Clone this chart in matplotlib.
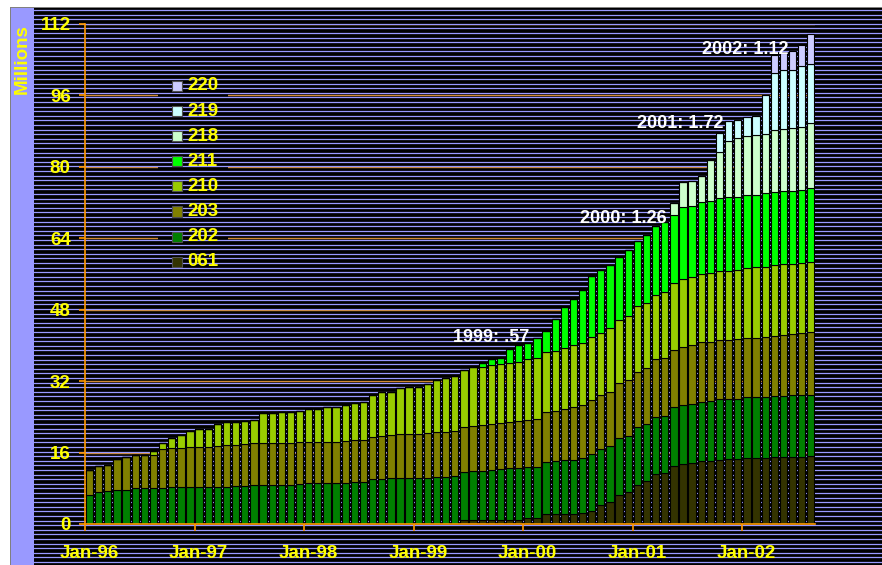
import numpy as np
import matplotlib
matplotlib.use('Agg')
import matplotlib.pyplot as plt
from matplotlib.patches import Rectangle
from matplotlib.lines import Line2D

plt.rcParams['font.family'] = ['Liberation Sans', 'DejaVu Sans']

# monthly volumes in millions, Jan-96 .. Aug-02, one row per year
s061 = [0, 0, 0, 0, 0, 0, 0, 0, 0, 0, 0, 0,
        0, 0, 0, 0, 0, 0, 0, 0, 0, 0, 0, 0,
        0, 0, 0, 0, 0, 0, 0, 0, 0, 0, 0, 0,
        0, 0, 0, 0, 0, 1.0, 1.0, 1.0, 1.0, 1.0, 1.0, 1.0,
        1.3, 1.3, 2.2, 2.2, 2.2, 2.2, 2.4, 3.0, 4.3, 5.0, 6.5, 7.1,
        8.7, 9.6, 11.2, 11.5, 13.0, 13.4, 13.7, 14.1, 14.1, 14.3, 14.5, 14.5,
        14.7, 14.7, 14.7, 14.9, 14.9, 15.1, 15.1, 15.2]
s202 = [6.6, 7.2, 7.4, 7.6, 7.6, 8.0, 8.0, 8.0, 8.1, 8.2, 8.2, 8.2,
        8.3, 8.4, 8.4, 8.4, 8.6, 8.6, 8.7, 8.7, 8.7, 8.8, 8.8, 8.9,
        9.1, 9.1, 9.1, 9.1, 9.1, 9.3, 9.3, 10.1, 10.1, 10.2, 10.2, 10.4,
        10.4, 10.4, 10.6, 10.6, 10.8, 10.7, 10.9, 10.9, 11.1, 11.4, 11.5, 11.6,
        11.4, 11.4, 11.8, 12.0, 12.1, 12.2, 12.3, 12.6, 12.4, 12.5, 12.7, 12.6,
        13.0, 12.8, 12.8, 12.8, 13.1, 13.3, 13.2, 13.2, 13.5, 13.7, 13.5, 13.6,
        13.7, 13.7, 13.8, 13.8, 13.8, 13.7, 13.8, 13.8]
s203 = [5.5, 5.9, 5.8, 6.9, 7.5, 7.5, 7.5, 7.5, 8.6, 8.8, 8.9, 9.0,
        8.9, 8.9, 9.1, 9.2, 9.1, 9.3, 9.4, 9.4, 9.4, 9.4, 9.4, 9.4,
        9.3, 9.3, 9.3, 9.3, 9.6, 9.5, 9.5, 9.5, 9.7, 9.8, 9.9, 9.8,
        9.8, 10.0, 9.9, 10.0, 10.0, 10.1, 10.0, 10.2, 10.4, 10.3, 10.4, 10.5,
        10.7, 10.9, 11.2, 11.2, 11.4, 11.9, 11.9, 12.2, 12.2, 12.0, 12.3, 12.6,
        12.3, 12.6, 12.9, 12.8, 12.9, 12.9, 13.2, 13.4, 13.1, 13.2, 13.2, 13.3,
        13.3, 13.3, 13.5, 13.5, 13.6, 13.8, 13.8, 13.9]
s210 = [0, 0, 0, 0, 0, 0, 0, 0.9, 1.5, 2.3, 2.8, 3.7,
        4.0, 3.9, 4.8, 5.2, 5.1, 5.2, 5.2, 6.7, 6.7, 6.8, 6.9, 7.1,
        7.4, 7.4, 7.7, 7.9, 8.0, 8.4, 8.6, 9.4, 9.7, 9.5, 10.3, 10.4,
        10.6, 11.0, 11.8, 12.0, 12.4, 12.8, 13.2, 13.1, 13.1, 13.1, 13.1, 13.1,
        13.5, 13.5, 13.3, 13.4, 13.7, 13.8, 13.9, 14.0, 13.8, 14.5, 14.3, 14.3,
        14.8, 14.6, 14.5, 14.8, 14.9, 15.2, 15.2, 15.2, 15.5, 15.5, 15.5, 15.5,
        15.6, 15.8, 15.6, 15.8, 15.9, 15.6, 15.7, 15.9]
s211 = [0, 0, 0, 0, 0, 0, 0, 0, 0, 0, 0, 0,
        0, 0, 0, 0, 0, 0, 0, 0, 0, 0, 0, 0,
        0, 0, 0, 0, 0, 0, 0, 0, 0, 0, 0, 0,
        0, 0, 0, 0, 0, 0, 0, 0.8, 1.3, 1.3, 3.2, 3.9,
        3.7, 4.5, 4.7, 7.1, 9.3, 10.4, 12.0, 13.7, 14.2, 14.0, 14.1, 14.8,
        14.7, 15.1, 15.4, 15.8, 15.3, 16.1, 16.0, 16.2, 16.2, 16.3, 16.5, 16.4,
        16.5, 16.3, 16.5, 16.3, 16.3, 16.5, 16.4, 16.4]
s218 = [0] * 12 + [0] * 12 + [0] * 12 + [0] * 12 + [0] * 12 + \
       [0, 0, 0, 0, 2.6, 5.6, 5.6, 5.9, 9.1, 10.4, 12.7, 13.1,
        13.2, 13.4, 13.3, 14.0, 13.9, 13.9, 14.2, 14.6]
s219 = [0] * 12 + [0] * 12 + [0] * 12 + [0] * 12 + [0] * 12 + \
       [0, 0, 0, 0, 0, 0, 0, 0, 0, 4.1, 4.4, 4.1,
        4.1, 4.3, 8.7, 12.7, 13.2, 13.1, 13.7, 13.3]
s220 = [0] * 12 + [0] * 12 + [0] * 12 + [0] * 12 + [0] * 12 + \
       [0, 0, 0, 0, 0, 0, 0, 0, 0, 0, 0, 0,
        0, 0, 0, 4.0, 3.8, 4.3, 4.7, 6.7]

names = ['061', '202', '203', '210', '211', '218', '219', '220']
series = [s061, s202, s203, s210, s211, s218, s219, s220]
colors = ['#333300', '#008000', '#808000', '#99cc00', '#00ff00',
          '#ccffcc', '#ccffff', '#ccccff']

year_labels = ['Jan-96', 'Jan-97', 'Jan-98', 'Jan-99', 'Jan-00', 'Jan-01', 'Jan-02']
notes = [('1999: .57', 44.5, 41.7), ('2000: 1.26', 59.0, 68.5),
         ('2001: 1.72', 65.2, 89.8), ('2002: 1.12', 72.3, 106.4)]

W, H = 882, 565
fig = plt.figure(figsize=(W / 100, H / 100), dpi=100, facecolor='white')


def fx(px):
    return px / W


def fy(py):
    return 1 - py / H


# chart area: black with a lavender band down the left
fig.add_artist(Rectangle((fx(10), 0), fx(W - 10), fy(7), transform=fig.transFigure,
                         facecolor='#808080', edgecolor='none', zorder=-3))
fig.add_artist(Rectangle((fx(11), 0), fx(W - 11), fy(8), transform=fig.transFigure,
                         facecolor='black', edgecolor='none', zorder=-2))
fig.add_artist(Rectangle((fx(11), 0), fx(23), fy(8), transform=fig.transFigure,
                         facecolor='#9999ff', edgecolor='none', zorder=-1))
fig.text(fx(22), fy(59), 'Millions', rotation=90, ha='center', va='center',
         color='#ffff00', fontsize=13.5, fontweight='bold')

ax = fig.add_axes([fx(85), fy(524), fx(730.4), 500 / H])
ax.set_facecolor('black')

n = len(s202)
x = np.arange(n) + 0.5
bottom = np.zeros(n)
for name, vals, c in zip(names, series, colors):
    vals = np.array(vals, dtype=float)
    ax.bar(x, vals, width=0.8, bottom=bottom, color=c, edgecolor='black',
           linewidth=0.8, zorder=2)
    bottom += vals

ax.set_xlim(0, n)
ax.set_ylim(0, 112)

# orange gridlines every 16
for g in range(16, 113, 16):
    ax.axhline(g, color='#d08a30', linewidth=1.0, zorder=0.5)

# black block behind the key, hides gridlines
ax.add_artist(Rectangle((fx(158), fy(276)), fx(70), 206 / H, transform=fig.transFigure,
                        facecolor='black', edgecolor='none', zorder=0.55, clip_on=False))

# thin horizontal stripes over the whole chart area
for sy in np.arange(10, H, 4.6):
    ln = Line2D([fx(34), 1], [fy(sy), fy(sy)], transform=fig.transFigure,
                color='#9999ff', linewidth=0.9, zorder=0.6)
    ax.add_artist(ln)
    ln.set_clip_on(False)

for side in ['top', 'right']:
    ax.spines[side].set_visible(False)
for side in ['left', 'bottom']:
    ax.spines[side].set_color('#ff9900')
    ax.spines[side].set_linewidth(1.2)
    ax.spines[side].set_zorder(3)

ax.set_yticks(range(0, 113, 16))
ax.tick_params(axis='y', colors='#ff9900', length=4.3, width=1.2, pad=6,
               labelcolor='#ffff00', labelsize=13.5)
ax.set_xticks(range(0, 73, 12))
ax.set_xticklabels([])
ax.set_xticks(np.arange(0, 73, 12) + 0.45, minor=True)
ax.set_xticklabels(year_labels, minor=True)
ax.tick_params(axis='x', which='major', colors='#ff9900', length=5, width=1.2)
ax.tick_params(axis='x', which='minor', length=0, pad=15,
               labelcolor='#ffff00', labelsize=13.5)
for lab in ax.get_yticklabels() + ax.get_xticklabels(minor=True):
    lab.set_fontweight('bold')

# key, top entry first
for k, (name, c) in enumerate(zip(names[::-1], colors[::-1])):
    cy = 86 + 25.1 * k
    fig.add_artist(Rectangle((fx(172), fy(cy + 5)), fx(10), 10 / H, transform=fig.transFigure,
                             facecolor=c, edgecolor='#505050', linewidth=0.8, zorder=3))
    fig.text(fx(187), fy(cy), name, ha='left', va='center', color='#ffff00',
             fontsize=13.5, fontweight='bold', zorder=3)

for txt, nx, ny in notes:
    ax.text(nx, ny, txt, ha='center', va='center', color='white',
            fontsize=13, fontweight='bold', zorder=5)

fig.savefig('out.png', dpi=100, facecolor=fig.get_facecolor())
